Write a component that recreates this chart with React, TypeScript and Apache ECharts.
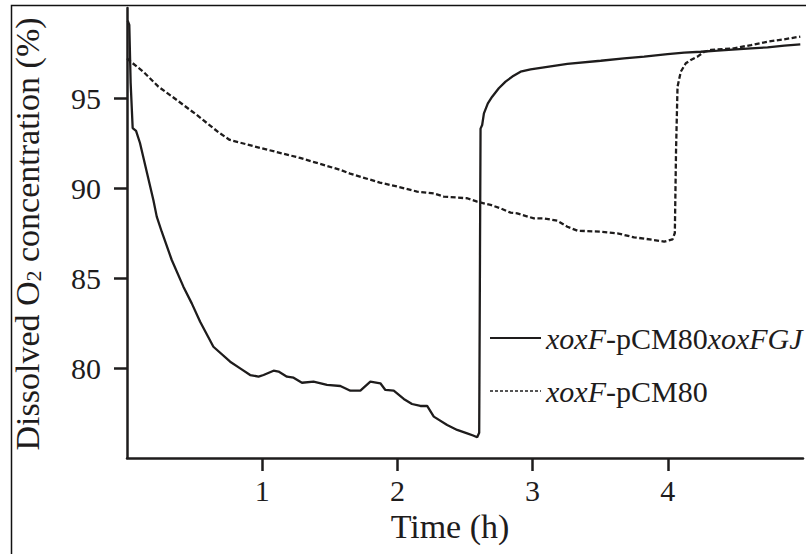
import React, { useEffect, useRef } from "react";
import * as echarts from "echarts";

// Time (h) and dissolved O2 (%) for xoxF-pCM80xoxFGJ (solid)
const timeA = [0.005, 0.017, 0.027, 0.042, 0.067, 0.096, 0.195, 0.22, 0.257, 0.331, 0.417, 0.479, 0.541, 0.639, 0.763, 0.837, 0.911, 0.973, 1.01, 1.084, 1.121, 1.183, 1.232, 1.294, 1.38, 1.479, 1.578, 1.652, 1.726, 1.8, 1.874, 1.911, 1.973, 2.047, 2.108, 2.17, 2.22, 2.269, 2.368, 2.442, 2.516, 2.56, 2.59, 2.605, 2.615, 2.627, 2.64, 2.669, 2.701, 2.75, 2.8, 2.85, 2.911, 2.985, 3.084, 3.257, 3.504, 3.676, 3.825, 3.998, 4.121, 4.244, 4.368, 4.615, 4.738, 4.862, 4.98];
const valueA = [99.3, 99.06, 95.83, 93.33, 93.17, 92.5, 89.33, 88.41, 87.57, 86.0, 84.52, 83.59, 82.57, 81.18, 80.35, 79.98, 79.61, 79.52, 79.61, 79.85, 79.8, 79.52, 79.46, 79.18, 79.24, 79.06, 79.0, 78.74, 78.74, 79.24, 79.15, 78.78, 78.74, 78.28, 78.0, 77.89, 77.89, 77.3, 76.83, 76.56, 76.37, 76.25, 76.15, 76.4, 93.3, 93.5, 94.15, 94.7, 95.07, 95.54, 95.91, 96.19, 96.46, 96.59, 96.7, 96.89, 97.07, 97.2, 97.3, 97.44, 97.52, 97.57, 97.63, 97.76, 97.81, 97.91, 97.98];

// Time (h) and dissolved O2 (%) for xoxF-pCM80 (dashed)
const timeB = [0.0, 0.022, 0.121, 0.232, 0.368, 0.516, 0.676, 0.76, 1.0, 1.28, 1.58, 1.65, 1.87, 2.022, 2.146, 2.269, 2.343, 2.516, 2.59, 2.689, 2.763, 2.837, 2.886, 3.01, 3.084, 3.183, 3.257, 3.331, 3.504, 3.627, 3.751, 3.899, 3.973, 4.035, 4.052, 4.061, 4.072, 4.096, 4.133, 4.17, 4.22, 4.27, 4.32, 4.49, 4.615, 4.74, 4.86, 4.98];
const valueB = [97.2, 97.05, 96.46, 95.63, 94.89, 94.06, 93.1, 92.67, 92.2, 91.67, 91.0, 90.8, 90.3, 90.04, 89.8, 89.7, 89.52, 89.43, 89.24, 89.06, 88.87, 88.63, 88.59, 88.31, 88.31, 88.18, 87.85, 87.63, 87.57, 87.48, 87.26, 87.11, 87.02, 87.15, 87.5, 92.1, 95.63, 96.46, 96.93, 97.11, 97.3, 97.57, 97.67, 97.76, 97.94, 98.13, 98.26, 98.41];

const seriesNames = ["xoxF-pCM80xoxFGJ", "xoxF-pCM80"];
const xTickValues = [1, 2, 3, 4];
const yTickValues = [80, 85, 90, 95];

const INK = "#1e1c1c";
const FONT = "Liberation Serif";

export default function App() {
  const ref = useRef<HTMLDivElement>(null);

  useEffect(() => {
    if (!ref.current) return;
    const chart = echarts.init(ref.current, undefined, { renderer: "svg" });
    const dataA = timeA.map((t, i) => [t, valueA[i]]);
    const dataB = timeB.map((t, i) => [t, valueB[i]]);

    chart.setOption({
      animation: false,
      backgroundColor: "#ffffff",
      grid: { left: 127, right: 3, top: 8, bottom: 96, containLabel: false },
      xAxis: {
        type: "value",
        min: 0,
        max: 5,
        interval: 1,
        name: "Time (h)",
        nameLocation: "middle",
        nameGap: 46,
        nameTextStyle: { fontFamily: FONT, fontSize: 34, color: INK, padding: [0, 30, 0, 0] },
        axisLine: { show: true, onZero: false, lineStyle: { color: INK, width: 2.5 } },
        axisTick: { show: true, customValues: xTickValues, length: 13, lineStyle: { color: INK, width: 2.5 } },
        axisLabel: { customValues: xTickValues, fontFamily: FONT, fontSize: 30, color: INK, margin: 17 },
        splitLine: { show: false },
      },
      yAxis: {
        type: "value",
        min: 75,
        max: 100,
        interval: 5,
        axisLine: { show: true, onZero: false, lineStyle: { color: INK, width: 2.5 } },
        axisTick: { show: true, customValues: yTickValues, length: 13, lineStyle: { color: INK, width: 2.5 } },
        axisLabel: { customValues: yTickValues, fontFamily: FONT, fontSize: 30, color: INK, margin: 26 },
        splitLine: { show: false },
      },
      legend: {
        orient: "vertical",
        left: 484,
        top: 318,
        itemWidth: 51,
        itemHeight: 14,
        itemGap: 23,
        selectedMode: false,
        itemStyle: { opacity: 0 },
        data: [
          { name: seriesNames[0] },
          { name: seriesNames[1], lineStyle: { type: [3, 2], width: 1.6 } },
        ],
        formatter: (name: string) =>
          name === "xoxF-pCM80xoxFGJ" ? "{i|xoxF}{n|-pCM80}{i|xoxFGJ}" : "{i|xoxF}{n|-pCM80}",
        textStyle: {
          fontFamily: FONT,
          fontSize: 30,
          color: INK,
          rich: {
            i: { fontFamily: FONT, fontSize: 30, fontStyle: "italic", color: INK },
            n: { fontFamily: FONT, fontSize: 30, color: INK },
          },
        },
      },
      graphic: [
        {
          type: "rect",
          silent: true,
          shape: { x: 11.5, y: 5.5, width: 900, height: 700 },
          style: { fill: "none", stroke: "#111", lineWidth: 1.5 },
        },
        {
          type: "text",
          x: 27,
          y: 234,
          rotation: Math.PI / 2,
          silent: true,
          style: {
            text: "Dissolved O{sub|2} concentration (%)",
            fontFamily: FONT,
            fontSize: 34,
            fill: INK,
            align: "center",
            verticalAlign: "middle",
            rich: {
              sub: { fontFamily: FONT, fontSize: 22, fill: INK, verticalAlign: "bottom" },
            },
          },
        },
      ],
      series: [
        {
          name: seriesNames[0],
          type: "line",
          data: dataA,
          symbol: "none",
          showSymbol: false,
          lineStyle: { color: INK, width: 2.3, type: "solid" },
          itemStyle: { color: INK },
        },
        {
          name: seriesNames[1],
          type: "line",
          data: dataB,
          symbol: "none",
          showSymbol: false,
          lineStyle: { color: INK, width: 2.3, type: [5, 2.5] },
          itemStyle: { color: INK },
        },
      ],
    });

    return () => chart.dispose();
  }, []);

  return (
    <div
      ref={ref}
      style={{ position: "fixed", left: 0, top: 0, width: 806, height: 554, background: "#fff" }}
    />
  );
}
